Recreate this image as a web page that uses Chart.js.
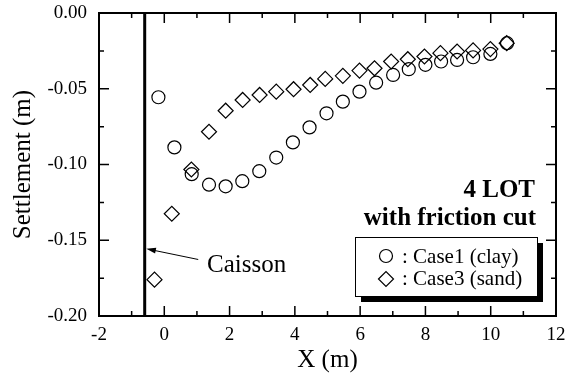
<!DOCTYPE html>
<html lang="en">
  <head>
    <meta charset="utf-8" />
    <script src="https://cdn.jsdelivr.net/npm/chart.js@4"></script>
    <style>body{margin:0;background:#fff}</style>
    <title>Settlement</title>
  </head>
  <body>
    <canvas id="chart" width="574" height="375"></canvas>
    <script>
      // values
      const case1X = [-0.18, 0.31, 0.84, 1.37, 1.88, 2.39, 2.91, 3.43, 3.94, 4.45, 4.97, 5.47, 5.98, 6.49, 7.01, 7.49, 8.0, 8.48, 8.97, 9.46, 9.99, 10.5];
      const case1Y = [-0.0556, -0.0887, -0.1064, -0.1133, -0.1144, -0.111, -0.1044, -0.0954, -0.0854, -0.0755, -0.0662, -0.0585, -0.0519, -0.046, -0.0409, -0.0371, -0.0342, -0.032, -0.031, -0.0292, -0.027, -0.0199];
      const case3X = [-0.30, 0.23, 0.83, 1.37, 1.88, 2.40, 2.92, 3.43, 3.96, 4.47, 4.93, 5.47, 5.98, 6.44, 6.95, 7.46, 7.97, 8.46, 8.97, 9.46, 9.99, 10.49];
      const case3Y = [-0.176, -0.1325, -0.1033, -0.0784, -0.0645, -0.0574, -0.0541, -0.0519, -0.0503, -0.0475, -0.0435, -0.0415, -0.038, -0.0365, -0.032, -0.0305, -0.0287, -0.0265, -0.0254, -0.0247, -0.0238, -0.0199];
      const caissonX = [-0.6, -0.6];
      const caissonY = [0, -0.2];
      const arrowX = [1.04, -0.55];
      const arrowY = [-0.1627, -0.1556];
      const labels = ['Case1 (clay)', 'Case3 (sand)'];
      const xMin = -2, xMax = 12, xStep = 2;
      const yMin = -0.2, yMax = 0, yStep = 0.05;

      const serif = '"Liberation Serif", "Times New Roman", serif';

      function pts(xs, ys) {
        return xs.map((x, i) => ({ x: x, y: ys[i] }));
      }

      // frame, inward ticks, arrow, notes and legend
      const extras = {
        id: 'extras',
        afterDraw(chart) {
          const ctx = chart.ctx;
          const a = chart.chartArea;
          const xs = chart.scales.x, ys = chart.scales.y;
          ctx.save();
          ctx.strokeStyle = '#000';
          ctx.lineWidth = 2;
          ctx.strokeRect(a.left, a.top, a.right - a.left, a.bottom - a.top);
          ctx.lineWidth = 1.5;
          ctx.beginPath();
          for (let v = xMin; v <= xMax + 1e-9; v += xStep / 2) {
            const px = xs.getPixelForValue(v);
            const len = Math.abs(Math.round(v) % 2) === 0 ? 10 : 5;
            ctx.moveTo(px, a.bottom); ctx.lineTo(px, a.bottom - len);
            ctx.moveTo(px, a.top); ctx.lineTo(px, a.top + len);
          }
          for (let k = 0; k <= 8; k++) {
            const v = yMin + k * yStep / 2;
            const py = ys.getPixelForValue(v);
            const len = k % 2 === 0 ? 10 : 5;
            ctx.moveTo(a.left, py); ctx.lineTo(a.left + len, py);
            ctx.moveTo(a.right, py); ctx.lineTo(a.right - len, py);
          }
          ctx.stroke();

          // arrow to the caisson
          const x0 = xs.getPixelForValue(arrowX[0]), y0 = ys.getPixelForValue(arrowY[0]);
          const x1 = xs.getPixelForValue(arrowX[1]), y1 = ys.getPixelForValue(arrowY[1]);
          ctx.lineWidth = 1;
          ctx.beginPath();
          ctx.moveTo(x0, y0); ctx.lineTo(x1 + 8, y1 + 1.7);
          ctx.stroke();
          const ang = Math.atan2(y1 - y0, x1 - x0);
          ctx.beginPath();
          ctx.moveTo(x1, y1);
          ctx.lineTo(x1 - 10 * Math.cos(ang - 0.3), y1 - 10 * Math.sin(ang - 0.3));
          ctx.lineTo(x1 - 10 * Math.cos(ang + 0.3), y1 - 10 * Math.sin(ang + 0.3));
          ctx.closePath();
          ctx.fillStyle = '#000';
          ctx.fill();

          ctx.font = '25px ' + serif;
          ctx.textBaseline = 'alphabetic';
          ctx.textAlign = 'left';
          ctx.fillText('Caisson', 207, 272);

          ctx.font = 'bold 25px ' + serif;
          ctx.textAlign = 'right';
          ctx.fillText('4 LOT', 535, 197);
          ctx.fillText('with friction cut', 536, 225);

          // legend box with shadow
          const lx = 355, ly = 237, lw = 182, lh = 59;
          ctx.fillStyle = '#000';
          ctx.fillRect(lx + 6, ly + 6, lw, lh);
          ctx.fillStyle = '#fff';
          ctx.fillRect(lx, ly, lw, lh);
          ctx.lineWidth = 1;
          ctx.strokeRect(lx + 0.5, ly + 0.5, lw, lh);
          ctx.strokeStyle = '#000';
          ctx.lineWidth = 1.2;
          ctx.beginPath();
          ctx.arc(386, 256, 6.5, 0, Math.PI * 2);
          ctx.stroke();
          ctx.beginPath();
          ctx.moveTo(386 - 7.5, 279); ctx.lineTo(386, 279 - 7.5);
          ctx.lineTo(386 + 7.5, 279); ctx.lineTo(386, 279 + 7.5);
          ctx.closePath();
          ctx.stroke();
          ctx.fillStyle = '#000';
          ctx.font = '21px ' + serif;
          ctx.textAlign = 'left';
          ctx.textBaseline = 'middle';
          ctx.fillText(': ' + labels[0], 402, 257);
          ctx.fillText(': ' + labels[1], 402, 279);
          ctx.restore();
        }
      };

      new Chart(document.getElementById('chart').getContext('2d'), {
        type: 'scatter',
        data: {
          datasets: [
            {
              label: labels[0],
              data: pts(case1X, case1Y),
              pointStyle: 'circle',
              pointRadius: 6.5,
              pointBorderWidth: 1.2,
              pointBorderColor: '#000',
              pointBackgroundColor: 'rgba(0,0,0,0)'
            },
            {
              label: labels[1],
              data: pts(case3X, case3Y),
              pointStyle: 'rectRot',
              pointRadius: 7.5,
              pointBorderWidth: 1.2,
              pointBorderColor: '#000',
              pointBackgroundColor: 'rgba(0,0,0,0)'
            },
            {
              label: 'Caisson',
              type: 'line',
              data: pts(caissonX, caissonY),
              borderColor: '#000',
              borderWidth: 3,
              pointRadius: 0
            }
          ]
        },
        options: {
          responsive: false,
          animation: false,
          devicePixelRatio: 1,
          layout: { padding: { left: 0, top: 13, right: 18, bottom: 0 } },
          plugins: { legend: { display: false }, tooltip: { enabled: false } },
          scales: {
            x: {
              type: 'linear',
              min: xMin, max: xMax,
              afterFit: function(scale) {
                scale.height = 59;
                scale.paddingLeft = 0;
                scale.paddingRight = 0;
              },
              border: { display: false },
              grid: { display: false, drawTicks: false },
              ticks: {
                stepSize: xStep,
                padding: 8,
                color: '#000',
                font: { family: serif, size: 19 }
              },
              title: {
                display: true,
                text: 'X (m)',
                color: '#000',
                padding: { top: 0, bottom: 0 },
                font: { family: serif, size: 25 }
              }
            },
            y: {
              type: 'linear',
              min: yMin, max: yMax,
              afterFit: function(scale) {
                scale.width = 99;
                scale.paddingTop = 0;
                scale.paddingBottom = 0;
              },
              border: { display: false },
              grid: { display: false, drawTicks: false },
              ticks: {
                stepSize: yStep,
                padding: 12,
                color: '#000',
                font: { family: serif, size: 19 },
                callback: function(value) { return value.toFixed(2); }
              },
              title: {
                display: true,
                text: 'Settlement (m)',
                color: '#000',
                padding: { top: 8, bottom: 0 },
                font: { family: serif, size: 25 }
              }
            }
          }
        },
        plugins: [extras]
      });
    </script>
  </body>
</html>
